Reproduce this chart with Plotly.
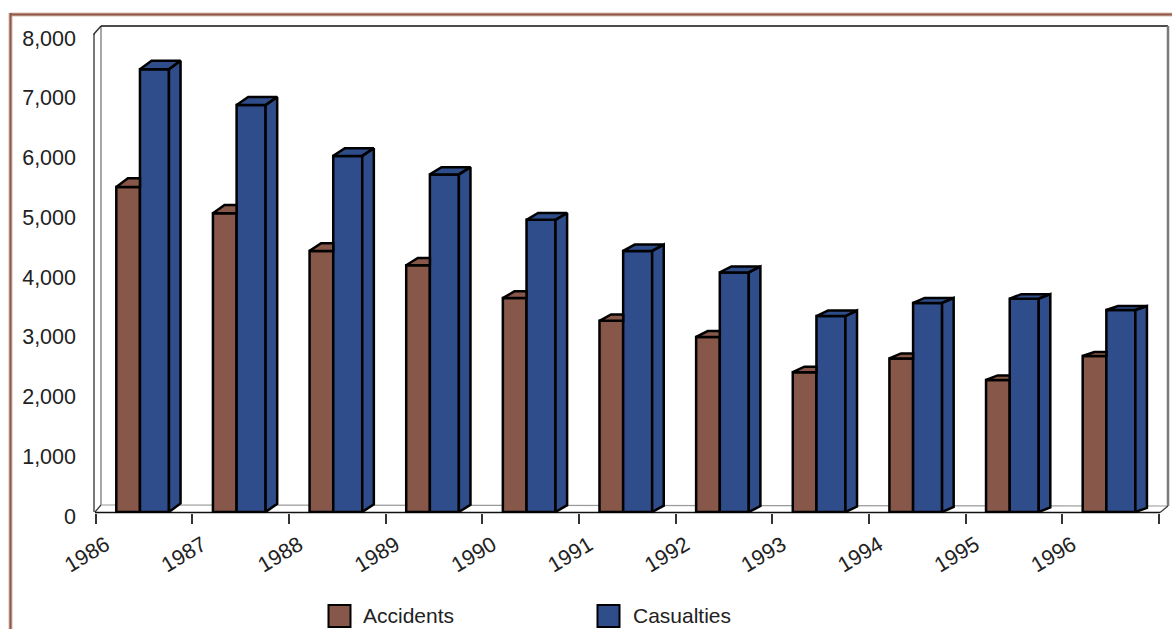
import plotly.graph_objects as go

# ---- data -------------------------------------------------------------
years = ["1986", "1987", "1988", "1989", "1990", "1991",
         "1992", "1993", "1994", "1995", "1996"]
accidents = [5440, 5000, 4370, 4130, 3580, 3200, 2930, 2340, 2570, 2210, 2610]
casualties = [7410, 6810, 5960, 5650, 4890, 4370, 4010, 3280, 3500, 3570, 3380]
y_ticks = [0, 1000, 2000, 3000, 4000, 5000, 6000, 7000, 8000]

# ---- styling ----------------------------------------------------------
BROWN = "#87574A"
BLUE = "#2F4D8A"
FRAME = "#8E5748"
FRAME_LIGHT = "#D9BBAE"
FONT = dict(family="Liberation Sans, Arial, sans-serif", size=21.5, color="#222222")
LEGEND_FONT = dict(FONT, size=21)
EDGE = dict(color="black", width=2.5)

W, H = 1172, 629
# plot-area box in pixels
PL, PR, PT, PB = 92, 1170, 24, 513
# pixel geometry of the front plane
X0_PX, STEP_PX = 95.8, 96.64          # first category boundary, category pitch
Y0_PX, PX_PER_UNIT = 512.0, 478 / 8000  # baseline pixel, pixels per unit


def px_to_x(px):
    return (px - X0_PX) / STEP_PX


def px_to_y(py):
    return (Y0_PX - py) / PX_PER_UNIT


def paper_x(px):
    return (px - PL) / (PR - PL)


def paper_y(py):
    return (PB - py) / (PB - PT)


# bar placement within each category (category units)
ACC_OFF, ACC_W = 0.212, 0.245
CAS_OFF, CAS_W = 0.457, 0.300
DEPTH_X = 0.12


def depth_y(i):
    # oblique depth shrinks slightly towards the right of the chart
    return (8.6 - 0.45 * i) / PX_PER_UNIT


idx = list(range(len(years)))

fig = go.Figure()

# front faces
fig.add_trace(go.Bar(
    x=idx, y=accidents, offset=ACC_OFF, width=ACC_W, name="Accidents",
    marker=dict(color=BROWN, line=EDGE),
    showlegend=False, hoverinfo="x+y"))
fig.add_trace(go.Bar(
    x=idx, y=casualties, offset=CAS_OFF, width=CAS_W, name="Casualties",
    marker=dict(color=BLUE, line=EDGE),
    showlegend=False, hoverinfo="x+y"))

# top faces of the accident columns (back part hidden by casualty columns)
ax, ay = [], []
for i, v in enumerate(accidents):
    d = depth_y(i)
    xl, xr = i + ACC_OFF, i + CAS_OFF
    ax += [xl, xr, xr, xl + DEPTH_X, xl, None]
    ay += [v, v, v + d, v + d, v, None]
fig.add_trace(go.Scatter(
    x=ax, y=ay, mode="lines", fill="toself", fillcolor=BROWN,
    line=EDGE, showlegend=False, hoverinfo="skip"))

# top and side faces of the casualty columns
cx, cy = [], []
for i, v in enumerate(casualties):
    d = depth_y(i)
    xl = i + CAS_OFF
    xr = xl + CAS_W
    cx += [xl, xr, xr + DEPTH_X, xl + DEPTH_X, xl, None]
    cy += [v, v, v + d, v + d, v, None]
    cx += [xr, xr + DEPTH_X, xr + DEPTH_X, xr, xr, None]
    cy += [v, v + d, d, 0, v, None]
fig.add_trace(go.Scatter(
    x=cx, y=cy, mode="lines", fill="toself", fillcolor=BLUE,
    line=EDGE, showlegend=False, hoverinfo="skip"))

# ---- walls, floor and outer frame ------------------------------------
shapes = []


def seg(x0, y0, x1, y1, color, width):
    shapes.append(dict(type="line", xref="paper", yref="paper",
                       x0=paper_x(x0), y0=paper_y(y0),
                       x1=paper_x(x1), y1=paper_y(y1),
                       line=dict(color=color, width=width), layer="below"))


# left wall
seg(94, 512, 94, 34, "#4d4d4d", 1.5)
seg(101, 505, 101, 26, "#8a8a8a", 1.5)
seg(93.5, 34.5, 101, 26, "#333333", 1.5)
seg(95, 512, 101, 505, "#333333", 1.2)
# back wall edges
seg(101, 26, 1168, 26, "#111111", 1.6)
seg(1168, 26, 1168, 506, "#7a7a7a", 2.5)
# floor
seg(101, 505, 1168, 506, "#9a9a9a", 1.2)
seg(95, 512.5, 1160, 512.5, "#111111", 1.5)
seg(1160, 512.5, 1168, 506, "#333333", 1.2)

# outer frame (top and left)
seg(10, 14.5, 1172, 14.5, FRAME_LIGHT, 4)
seg(10.5, 13, 10.5, 629, FRAME_LIGHT, 4)
seg(10, 14.5, 1172, 14.5, FRAME, 2)
seg(10.5, 13, 10.5, 629, FRAME, 2)

# legend keys
annotations = []
for name, color, box_left, text_left in [("Accidents", BROWN, 328.5, 361),
                                          ("Casualties", BLUE, 597.5, 631)]:
    shapes.append(dict(type="rect", xref="paper", yref="paper",
                       x0=paper_x(box_left), x1=paper_x(box_left + 22),
                       y0=paper_y(605), y1=paper_y(627),
                       fillcolor=color, line=dict(color="black", width=2)))
    annotations.append(dict(text=name, xref="paper", yref="paper",
                            x=paper_x(text_left), y=paper_y(615.5),
                            xanchor="left", yanchor="middle", showarrow=False,
                            font=LEGEND_FONT))

fig.update_layout(
    width=W, height=H,
    margin=dict(l=PL, r=W - PR, t=PT, b=H - PB, pad=0),
    paper_bgcolor="white", plot_bgcolor="white",
    barmode="overlay",
    shapes=shapes, annotations=annotations,
    font=FONT,
    xaxis=dict(range=[px_to_x(PL), px_to_x(PR)], tickmode="array",
               tickvals=list(range(len(years) + 1)), ticktext=years + [""],
               ticks="outside", ticklen=10, tickwidth=1.5, tickcolor="#333333",
               tickangle=-31, showgrid=False, zeroline=False, showline=False,
               ticklabelshift=10, tickfont=FONT, fixedrange=True),
    yaxis=dict(range=[px_to_y(PB), px_to_y(PT)], tickmode="array",
               tickvals=y_ticks, tickformat=",", ticks="",
               showgrid=False, zeroline=False, showline=False,
               ticklabelstandoff=15, ticklabelshift=4, tickfont=FONT,
               fixedrange=True),
)

fig.write_html("out.html")
